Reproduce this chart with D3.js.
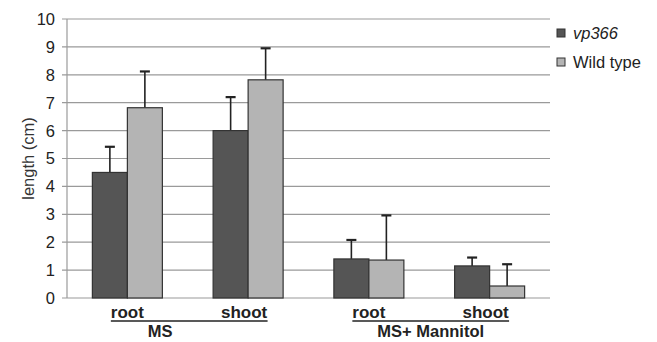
<!DOCTYPE html>
<html>
<head>
<meta charset="utf-8">
<script src="https://cdn.jsdelivr.net/npm/d3@7"></script>
<style>
  body { margin: 0; background: #fff; }
  svg { display: block; font-family: "Liberation Sans", Arial, sans-serif; }
</style>
</head>
<body>
<svg id="chart" width="657" height="342"></svg>
<script>
const categories = ["MS root", "MS shoot", "Mannitol root", "Mannitol shoot"];
const catLabels = ["root", "shoot", "root", "shoot"];
const groups = [
  { label: "MS", from: 0, to: 1 },
  { label: "MS+ Mannitol", from: 2, to: 3 }
];
const seriesNames = ["vp366", "Wild type"];
const vp366 = [4.5, 6.0, 1.4, 1.15];
const vp366Err = [0.92, 1.2, 0.68, 0.3];
const wildType = [6.82, 7.82, 1.36, 0.43];
const wildTypeErr = [1.3, 1.13, 1.6, 0.78];
const yTicks = [0, 1, 2, 3, 4, 5, 6, 7, 8, 9, 10];

(function() {
  const svg = d3.select("#chart");
  const colors = { "vp366": "#555555", "Wild type": "#b4b4b4" };
  const GRID = "#9a9a9a";
  const INK = "#222";

  const left = 67, right = 550, top = 19, bottom = 298;

  const x0 = d3.scaleBand().domain(categories).range([left, right]);
  const pairWidth = 70;
  const x1 = d3.scaleBand().domain(seriesNames).range([0, pairWidth]);
  const y = d3.scaleLinear().domain([0, 10]).range([bottom, top]);

  // Grid lines
  svg.append("g")
    .selectAll("line")
    .data(yTicks)
    .join("line")
    .attr("x1", left - 5).attr("x2", right)
    .attr("y1", d => y(d)).attr("y2", d => y(d))
    .attr("stroke", GRID)
    .attr("stroke-width", 1.2);

  // Y axis line
  svg.append("line")
    .attr("x1", left).attr("x2", left)
    .attr("y1", y(10)).attr("y2", y(0))
    .attr("stroke", GRID)
    .attr("stroke-width", 1.2);

  // Tick labels
  svg.append("g")
    .selectAll("text")
    .data(yTicks)
    .join("text")
    .attr("x", left - 12)
    .attr("y", d => y(d))
    .attr("dy", "0.36em")
    .attr("text-anchor", "end")
    .attr("font-size", 16.5)
    .attr("fill", INK)
    .text(d => d);

  svg.append("text")
    .attr("transform", `translate(28,${(y(0) + y(10)) / 2}) rotate(-90)`)
    .attr("text-anchor", "middle")
    .attr("dy", "0.35em")
    .attr("font-size", 16.5)
    .attr("fill", "#333")
    .text("length (cm)");

  const rows = categories.map((c, i) => [
    { cat: c, s: "vp366", v: vp366[i], e: vp366Err[i] },
    { cat: c, s: "Wild type", v: wildType[i], e: wildTypeErr[i] }
  ]).flat();

  const barX = d => x0(d.cat) + (x0.bandwidth() - pairWidth) / 2 + x1(d.s);

  // Error bars (upward only)
  const err = svg.append("g").attr("stroke", INK).attr("stroke-width", 1.6);
  rows.forEach(d => {
    const cx = barX(d) + x1.bandwidth() / 2;
    err.append("line")
      .attr("x1", cx).attr("x2", cx)
      .attr("y1", y(d.v)).attr("y2", y(d.v + d.e));
    err.append("line")
      .attr("x1", cx - 5).attr("x2", cx + 5)
      .attr("y1", y(d.v + d.e)).attr("y2", y(d.v + d.e))
      .attr("stroke-width", 2.2);
  });

  // Bars
  svg.append("g")
    .selectAll("rect")
    .data(rows)
    .join("rect")
    .attr("x", barX)
    .attr("y", d => y(d.v))
    .attr("width", x1.bandwidth())
    .attr("height", d => y(0) - y(d.v))
    .attr("fill", d => colors[d.s])
    .attr("stroke", "#333")
    .attr("stroke-width", 1.2);

  // Category labels: root left-aligned, shoot right-aligned, joined by underline
  const labelY = 318;
  const lineY = 321;
  groups.forEach((g, gi) => {
    const c0 = x0(categories[g.from]) + x0.bandwidth() / 2;
    const c1 = x0(categories[g.to]) + x0.bandwidth() / 2;
    const t0 = svg.append("text")
      .attr("x", c0).attr("y", labelY)
      .attr("text-anchor", "middle")
      .attr("font-size", 17).attr("font-weight", "bold").attr("fill", INK)
      .text(catLabels[g.from]);
    const t1 = svg.append("text")
      .attr("x", c1 - 4).attr("y", labelY)
      .attr("text-anchor", "middle")
      .attr("font-size", 17).attr("font-weight", "bold").attr("fill", INK)
      .text(catLabels[g.to]);
    const b0 = t0.node().getBBox();
    const b1 = t1.node().getBBox();
    svg.append("line")
      .attr("x1", b0.x).attr("x2", b1.x + b1.width)
      .attr("y1", lineY).attr("y2", lineY)
      .attr("stroke", INK).attr("stroke-width", 1.6);
    const mid = (b0.x + b1.x + b1.width) / 2;
    svg.append("text")
      .attr("x", gi === 0 ? mid - 29 : mid)
      .attr("y", 337)
      .attr("text-anchor", "middle")
      .attr("font-size", 16.5).attr("font-weight", "bold").attr("fill", INK)
      .text(g.label);
  });

  // Legend
  const legend = svg.append("g");
  seriesNames.forEach((s, i) => {
    const ly = 33 + i * 29;
    legend.append("rect")
      .attr("x", 557).attr("y", ly - 4)
      .attr("width", 8).attr("height", 8)
      .attr("fill", colors[s])
      .attr("stroke", "#333").attr("stroke-width", 1);
    legend.append("text")
      .attr("x", 573).attr("y", ly)
      .attr("dy", "0.36em")
      .attr("font-size", 16.5)
      .attr("font-style", i === 0 ? "italic" : "normal")
      .attr("fill", INK)
      .text(s);
  });
})();
</script>
</body>
</html>
